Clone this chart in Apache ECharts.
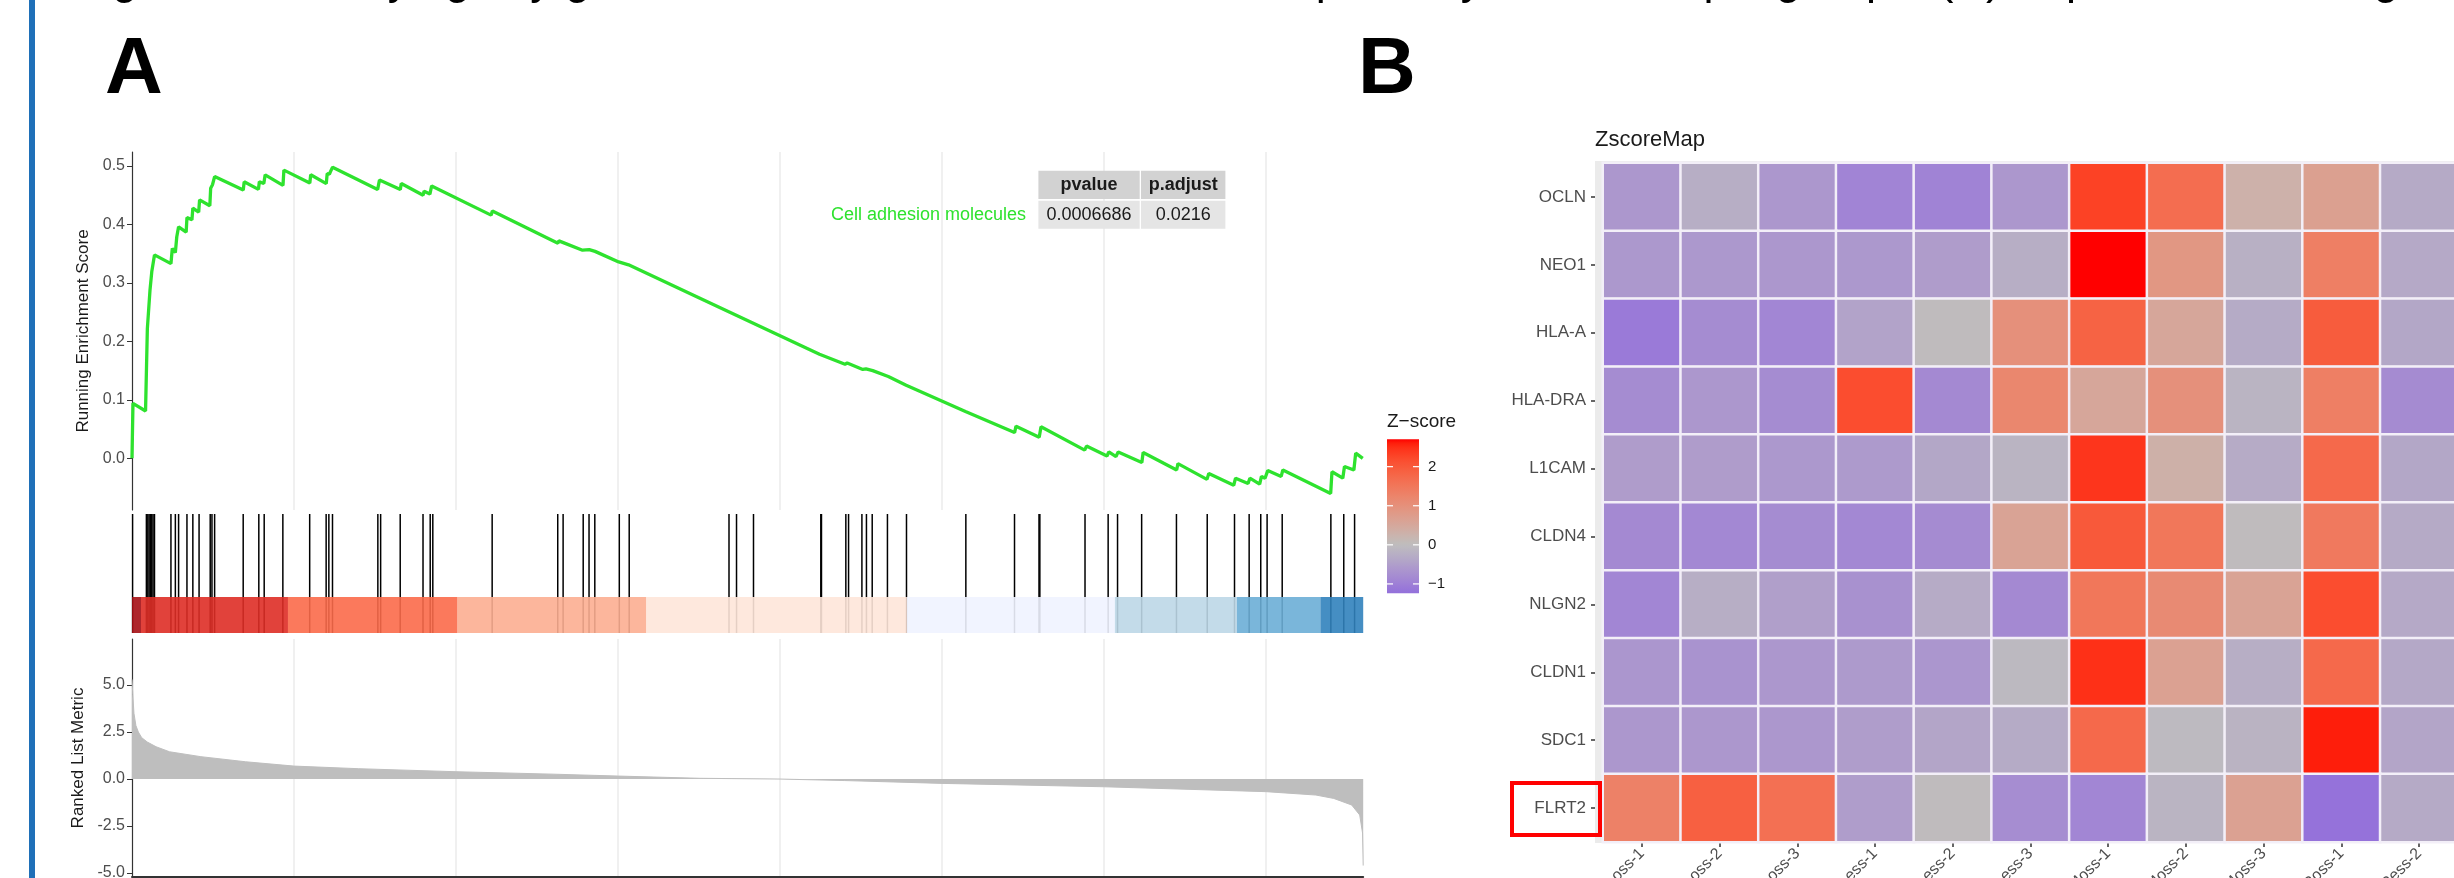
<!DOCTYPE html>
<html><head><meta charset="utf-8">
<script src="https://cdn.jsdelivr.net/npm/echarts@6.0.0/dist/echarts.min.js"></script>
<style>html,body{margin:0;padding:0;background:#fff}#c{width:2454px;height:878px}</style>
</head><body><div id="c"></div><script>
// ---------------- DATA ----------------
// Panel A: running enrichment score, [gene rank, ES]
const esCurve = [
[0,0],[15,0.094],[209,0.081],[237,0.222],[278,0.288],[305,0.319],[347,0.348],[601,0.333],[622,0.359],[669,0.352],[691,0.379],[719,0.396],[836,0.387],[848,0.412],[925,0.408],[939,0.428],[1029,0.421],[1043,0.442],[1201,0.432],[1214,0.462],[1242,0.468],[1275,0.482],[1717,0.459],[1731,0.473],[1951,0.460],[1965,0.473],[2034,0.470],[2055,0.485],[2330,0.467],[2344,0.493],[2744,0.471],[2758,0.485],[2998,0.470],[3012,0.487],[3047,0.486],[3061,0.490],[3095,0.498],[3791,0.460],[3819,0.476],[4141,0.460],[4155,0.470],[4493,0.450],[4507,0.457],[4597,0.452],[4624,0.466],[5541,0.416],[5561,0.423],[6573,0.368],[6587,0.372],[6656,0.369],[6670,0.372],[6953,0.356],[6973,0.359],[7056,0.357],[7070,0.358],[7146,0.354],[7160,0.356],[7511,0.336],[7531,0.339],[7663,0.331],[7683,0.334],[8764,0.274],[10610,0.178],[10637,0.180],[11003,0.161],[11037,0.163],[11278,0.152],[11327,0.153],[11431,0.150],[11671,0.140],[11691,0.142],[11947,0.125],[11967,0.127],[12862,0.080],[12884,0.083],[13620,0.044],[13642,0.055],[14000,0.036],[14028,0.054],[14702,0.014],[14730,0.021],[15046,0.004],[15074,0.011],[15185,0.003],[15219,0.011],[15584,-0.007],[15604,0.010],[16121,-0.020],[16141,-0.009],[16589,-0.036],[16617,-0.026],[17002,-0.046],[17030,-0.034],[17223,-0.043],[17251,-0.034],[17402,-0.044],[17430,-0.031],[17485,-0.034],[17527,-0.021],[17734,-0.031],[17760,-0.020],[18498,-0.060],[18518,-0.023],[18685,-0.034],[18711,-0.014],[18856,-0.020],[18884,0.009],[18993,0.000]
];
// gene-set hits (ranks) shown in the barcode
const hitRanks = [9,222,244,264,284,305,325,347,601,669,719,848,939,1035,1207,1234,1275,1716,1957,2040,2328,2742,2996,3038,3094,3794,3837,4139,4491,4602,4642,5558,6570,6653,6963,7053,7142,7520,7673,9213,9329,9591,10630,10640,11016,11058,11264,11334,11423,11658,11952,12868,13619,13997,14010,14707,15064,15209,15581,16118,16593,17014,17240,17419,17517,17750,18501,18700,18867];
// ranked-list colour band edges (ranks)
const bandEdges = [0,139,2407,5024,7937,11959,15168,17050,18339,19000];
// ranked list metric, [rank, metric]
const metricCurve = [[0,5.3],[12,4.5],[30,3.5],[60,2.85],[98,2.5],[150,2.2],[236,1.97],[371,1.72],[580,1.45],[1063,1.19],[1752,0.92],[2500,0.69],[3500,0.55],[5000,0.39],[6500,0.26],[7500,0.16],[8764,0.04],[10000,0.0],[11000,-0.08],[12500,-0.23],[15000,-0.41],[17500,-0.67],[18270,-0.85],[18545,-1.03],[18822,-1.38],[18946,-1.91],[18990,-2.87],[19000,-4.6]];
const rankMax = 19000;
const rankGridStep = 2500;
const esTicks = [0,0.1,0.2,0.3,0.4,0.5];
const esRange = [-0.0884, 0.524];
const metricTicks = [-5,-2.5,0,2.5,5];
const metricRange = [-5.21, 7.45];
const geneSetName = 'Cell adhesion molecules';
const tableHeader = ['pvalue','p.adjust'];
const tableValues = ['0.0006686','0.0216'];

// Panel B: Z-score heatmap
const genes = ['OCLN','NEO1','HLA-A','HLA-DRA','L1CAM','CLDN4','NLGN2','CLDN1','SDC1','FLRT2'];
const samples = ['Loss-1','Loss-2','Loss-3','Less-1','Less-2','Less-3','Moss-1','Moss-2','Moss-3','Ross-1','Ress-2'];
const zOCLN   = [-0.62,-0.25,-0.62,-0.93,-0.95,-0.62, 2.30, 1.67, 0.30, 0.68,-0.32];
const zNEO1   = [-0.60,-0.60,-0.62,-0.60,-0.53,-0.25, 2.70, 0.87,-0.22, 1.35,-0.33];
const zHLAA   = [-1.08,-0.80,-0.90,-0.43, 0.00, 1.00, 1.84, 0.54,-0.31, 1.95,-0.37];
const zHLADRA = [-0.80,-0.62,-0.80, 2.16,-0.84, 1.20, 0.54, 1.00,-0.16, 1.35,-0.82];
const zL1CAM  = [-0.53,-0.53,-0.60,-0.57,-0.37,-0.15, 2.43, 0.32,-0.30, 1.75,-0.37];
const zCLDN4  = [-0.84,-0.87,-0.80,-0.87,-0.82, 0.60, 2.00, 1.50, 0.00, 1.45,-0.32];
const zNLGN2  = [-0.90,-0.25,-0.50,-0.72,-0.30,-0.84, 1.50, 1.13, 0.60, 2.16,-0.33];
const zCLDN1  = [-0.64,-0.69,-0.62,-0.57,-0.64,-0.08, 2.48, 0.65,-0.25, 1.75,-0.36];
const zSDC1   = [-0.62,-0.62,-0.62,-0.52,-0.40,-0.31, 1.75,-0.05,-0.17, 2.60,-0.40];
const zFLRT2  = [ 1.30, 1.89, 1.62,-0.52, 0.00,-0.78,-0.90,-0.16, 0.65,-1.20,-0.32];
const zRows = [zOCLN,zNEO1,zHLAA,zHLADRA,zL1CAM,zCLDN4,zNLGN2,zCLDN1,zSDC1,zFLRT2];
const zRange = [-1.24, 2.7];
const zTicks = [-1,0,1,2];
const highlightGene = 'FLRT2';

// ---------------- STYLE HELPERS ----------------
const FONT = '"Liberation Sans", Arial, sans-serif';
const GREEN = '#2ee22e';
const bandColors = ['#A50F15','#DE2D26','#FB6A4A','#FCAE91','#FEE5D9','#EFF3FF','#BDD7E7','#6BAED6','#3182BD'];
const LOW = '#9370DB', MID = '#BEBEBE', HIGH = '#FF0000';

function hex2rgb(h){return [parseInt(h.slice(1,3),16),parseInt(h.slice(3,5),16),parseInt(h.slice(5,7),16)];}
function rgb2lab(c){
  const f=v=>{v/=255;return v<=0.04045?v/12.92:Math.pow((v+0.055)/1.055,2.4);};
  const R=f(c[0]),G=f(c[1]),B=f(c[2]);
  let X=(R*0.4124+G*0.3576+B*0.1805)/0.95047,Y=(R*0.2126+G*0.7152+B*0.0722),Z=(R*0.0193+G*0.1192+B*0.9505)/1.08883;
  const g=t=>t>0.008856?Math.cbrt(t):7.787*t+16/116;
  X=g(X);Y=g(Y);Z=g(Z);
  return [116*Y-16,500*(X-Y),200*(Y-Z)];
}
function lab2hex(l){
  let Y=(l[0]+16)/116,X=l[1]/500+Y,Z=Y-l[2]/200;
  const gi=t=>{const t3=t*t*t;return t3>0.008856?t3:(t-16/116)/7.787;};
  X=gi(X)*0.95047;Y=gi(Y);Z=gi(Z)*1.08883;
  const R=X*3.2406+Y*-1.5372+Z*-0.4986,G=X*-0.9689+Y*1.8758+Z*0.0415,B=X*0.0557+Y*-0.2040+Z*1.0570;
  const h=c=>{c=c<=0.0031308?12.92*c:1.055*Math.pow(c,1/2.4)-0.055;c=Math.max(0,Math.min(255,Math.round(c*255)));return c.toString(16).padStart(2,'0');};
  return '#'+h(R)+h(G)+h(B);
}
const labL=rgb2lab(hex2rgb(LOW)),labM=rgb2lab(hex2rgb(MID)),labH=rgb2lab(hex2rgb(HIGH));
function mixLab(a,b,t){return lab2hex([a[0]+(b[0]-a[0])*t,a[1]+(b[1]-a[1])*t,a[2]+(b[2]-a[2])*t]);}
function zColor(v){
  if(v<=0) return mixLab(labM,labL,Math.min(1,v/zRange[0]));
  return mixLab(labM,labH,Math.min(1,v/zRange[1]));
}
const NSTOP=40;
const vmColors=[];for(let i=0;i<=NSTOP;i++){vmColors.push(zColor(zRange[0]+(zRange[1]-zRange[0])*i/NSTOP));}
const barStops=[];for(let i=0;i<=NSTOP;i++){barStops.push({offset:i/NSTOP,color:zColor(zRange[1]-(zRange[1]-zRange[0])*i/NSTOP)});}

// ---------------- LAYOUT ----------------
const GX=132, GW=1231.2;
const heatGrid={left:1603,top:163,width:855,height:679};
const bar={x:1387,y:439.3,w:32,h:154};
const zToBarY=v=>bar.y+(zRange[1]-v)/(zRange[1]-zRange[0])*bar.h;

const heatData=[];zRows.forEach((row,i)=>row.forEach((v,j)=>heatData.push([j,i,v])));
const bands=[];for(let i=0;i<bandEdges.length-1;i++){bands.push([bandEdges[i],bandEdges[i+1],i]);}
const BAND_TOP=0.3025;

const chart=echarts.init(document.getElementById('c'),null,{renderer:'canvas'});

const graphics=[
  {type:'rect',shape:{x:29,y:0,width:6,height:878},style:{fill:'#1f70b8'}},
  {type:'text',style:{text:'Figure 4. Identifying key genes of the cell adhesion molecules pathway in the sample groups. (C) Expression of the genes, p < 0.05, p',x:75,y:4,font:'45px '+FONT,fill:'#000',textVerticalAlign:'bottom',verticalAlign:'bottom'}},
  {type:'text',style:{text:'A',x:105,y:71,font:'bold 80px '+FONT,fill:'#000',textVerticalAlign:'middle',verticalAlign:'middle'}},
  {type:'text',style:{text:'B',x:1358,y:71,font:'bold 80px '+FONT,fill:'#000',textVerticalAlign:'middle',verticalAlign:'middle'}},
  // table
  {type:'rect',z:50,shape:{x:1038.4,y:170.7,width:101.3,height:28.3},style:{fill:'#d2d2d2'}},
  {type:'rect',z:50,shape:{x:1141,y:170.7,width:84.4,height:28.3},style:{fill:'#d2d2d2'}},
  {type:'rect',z:50,shape:{x:1038.4,y:200.7,width:101.3,height:28},style:{fill:'#e5e5e5'}},
  {type:'rect',z:50,shape:{x:1141,y:200.7,width:84.4,height:28},style:{fill:'#e5e5e5'}},
  {type:'text',z:51,style:{text:tableHeader[0],x:1089,y:185,font:'bold 18px '+FONT,fill:'#1a1a1a',textAlign:'center',align:'center',textVerticalAlign:'middle',verticalAlign:'middle'}},
  {type:'text',z:51,style:{text:tableHeader[1],x:1183.2,y:185,font:'bold 18px '+FONT,fill:'#1a1a1a',textAlign:'center',align:'center',textVerticalAlign:'middle',verticalAlign:'middle'}},
  {type:'text',z:51,style:{text:tableValues[0],x:1089,y:215,font:'18px '+FONT,fill:'#1a1a1a',textAlign:'center',align:'center',textVerticalAlign:'middle',verticalAlign:'middle'}},
  {type:'text',z:51,style:{text:tableValues[1],x:1183.2,y:215,font:'18px '+FONT,fill:'#1a1a1a',textAlign:'center',align:'center',textVerticalAlign:'middle',verticalAlign:'middle'}},
  {type:'text',z:51,style:{text:geneSetName,x:1026,y:215,font:'18px '+FONT,fill:GREEN,textAlign:'right',align:'right',textVerticalAlign:'middle',verticalAlign:'middle'}},
  // Z-score legend
  {type:'text',style:{text:'Z\u2212score',x:bar.x,y:422,font:'19px '+FONT,fill:'#1a1a1a',textVerticalAlign:'middle',verticalAlign:'middle'}},
  {type:'rect',shape:{x:bar.x,y:bar.y,width:bar.w,height:bar.h},style:{fill:{type:'linear',x:0,y:0,x2:0,y2:1,colorStops:barStops}}},
  // heatmap panel background + title
  {type:'rect',z:-1,shape:{x:1595,y:161,width:870,height:682},style:{fill:'#ebebeb'}},
  {type:'text',style:{text:'ZscoreMap',x:1595,y:140,font:'22px '+FONT,fill:'#1a1a1a',textVerticalAlign:'middle',verticalAlign:'middle'}}
];
zTicks.forEach(v=>{
  const y=zToBarY(v);
  graphics.push({type:'line',z:5,shape:{x1:bar.x,y1:y,x2:bar.x+6,y2:y},style:{stroke:'#fff',lineWidth:1.2}});
  graphics.push({type:'line',z:5,shape:{x1:bar.x+bar.w-6,y1:y,x2:bar.x+bar.w,y2:y},style:{stroke:'#fff',lineWidth:1.2}});
  graphics.push({type:'text',style:{text:(v<0?'\u2212'+Math.abs(v):String(v)),x:1428,y:y,font:'15px '+FONT,fill:'#1a1a1a',textVerticalAlign:'middle',verticalAlign:'middle'}});
});
// red highlight box around the FLRT2 label
const hiIdx=genes.indexOf(highlightGene);
const rowH=heatGrid.height/genes.length;
graphics.push({type:'rect',z:60,shape:{x:1512,y:heatGrid.top+hiIdx*rowH+9,width:88,height:rowH-16},style:{fill:'none',stroke:'#ff0000',lineWidth:4}});

const axisTxt={fontFamily:FONT,fontSize:16,color:'#4d4d4d'};
const gridLine={show:true,showMinLine:false,showMaxLine:false,lineStyle:{color:'#ebebeb',width:1.5}};

const option={
  animation:false,
  backgroundColor:'#fff',
  textStyle:{fontFamily:FONT},
  grid:[
    {left:GX,top:152,width:GW,height:358,containLabel:false,outerBoundsMode:'none'},
    {left:GX,top:514,width:GW,height:119,containLabel:false,outerBoundsMode:'none'},
    {left:GX,top:639,width:GW,height:238,containLabel:false,outerBoundsMode:'none'},
    Object.assign({containLabel:false,outerBoundsMode:'none'},heatGrid)
  ],
  xAxis:[
    {gridIndex:0,type:'value',min:0,max:rankMax,interval:rankGridStep,axisLine:{show:false},axisTick:{show:false},axisLabel:{show:false},splitLine:gridLine},
    {gridIndex:1,type:'value',min:0,max:rankMax,show:false},
    {gridIndex:2,type:'value',min:0,max:rankMax,interval:rankGridStep,axisLine:{show:true,onZero:false,lineStyle:{color:'#333',width:2}},axisTick:{show:false},axisLabel:{show:false},splitLine:gridLine},
    {gridIndex:3,type:'category',data:samples,position:'bottom',axisLine:{show:false},
      axisTick:{show:true,alignWithLabel:true,length:5,lineStyle:{color:'#333',width:1.5}},
      axisLabel:Object.assign({interval:0,rotate:45,margin:9},axisTxt),splitLine:{show:false}}
  ],
  yAxis:[
    {gridIndex:0,type:'value',min:esRange[0],max:esRange[1],
      axisLine:{show:true,onZero:false,lineStyle:{color:'#333',width:1.2}},
      axisTick:{show:true,length:5,customValues:esTicks,lineStyle:{color:'#333'}},
      axisLabel:Object.assign({customValues:esTicks,margin:7,formatter:v=>v.toFixed(1)},axisTxt),
      splitLine:{show:false},
      name:'Running Enrichment Score',nameLocation:'middle',nameGap:37,nameTextStyle:{fontFamily:FONT,fontSize:17,color:'#1a1a1a'}},
    {gridIndex:1,type:'value',min:0,max:1,show:false},
    {gridIndex:2,type:'value',min:metricRange[0],max:metricRange[1],
      axisLine:{show:true,onZero:false,lineStyle:{color:'#333',width:1.2}},
      axisTick:{show:true,length:5,customValues:metricTicks,lineStyle:{color:'#333'}},
      axisLabel:Object.assign({customValues:metricTicks,margin:7,formatter:v=>v.toFixed(1)},axisTxt),
      splitLine:{show:false},
      name:'Ranked List Metric',nameLocation:'middle',nameGap:37,nameTextStyle:{fontFamily:FONT,fontSize:17,color:'#1a1a1a'}},
    {gridIndex:3,type:'category',data:genes,inverse:true,offset:8,axisLine:{show:false},
      axisTick:{show:true,alignWithLabel:true,length:4,lineStyle:{color:'#333',width:1.5}},
      axisLabel:Object.assign({margin:9},axisTxt,{fontSize:17}),splitLine:{show:false}}
  ],
  visualMap:[{type:'continuous',show:false,seriesIndex:4,dimension:2,min:zRange[0],max:zRange[1],inRange:{color:vmColors}}],
  series:[
    {type:'line',xAxisIndex:0,yAxisIndex:0,data:esCurve,symbol:'none',showSymbol:false,lineStyle:{color:GREEN,width:3.3},z:5},
    {type:'custom',xAxisIndex:1,yAxisIndex:1,data:hitRanks.map(r=>[r]),z:2,
      renderItem:(p,api)=>{const x=api.coord([api.value(0),0])[0];const y1=api.coord([0,1])[1];const y2=api.coord([0,0])[1];
        return {type:'line',shape:{x1:x,y1:y1,x2:x,y2:y2},style:{stroke:'#000',lineWidth:1.5}};}},
    {type:'custom',xAxisIndex:1,yAxisIndex:1,data:bands,z:3,
      renderItem:(p,api)=>{const a=api.coord([api.value(0),BAND_TOP]);const b=api.coord([api.value(1),0]);
        return {type:'rect',shape:{x:a[0],y:a[1],width:b[0]-a[0],height:b[1]-a[1]},style:{fill:bandColors[api.value(2)],opacity:0.9}};}},
    {type:'line',xAxisIndex:2,yAxisIndex:2,data:metricCurve,symbol:'none',showSymbol:false,lineStyle:{color:'#bebebe',width:1},areaStyle:{color:'#bebebe',opacity:1,origin:'auto'},z:3},
    {type:'heatmap',xAxisIndex:3,yAxisIndex:3,data:heatData,itemStyle:{borderColor:'#f3eff8',borderWidth:2.5},emphasis:{disabled:true},z:2}
  ],
  graphic:graphics
};
chart.setOption(option);
</script></body></html>
